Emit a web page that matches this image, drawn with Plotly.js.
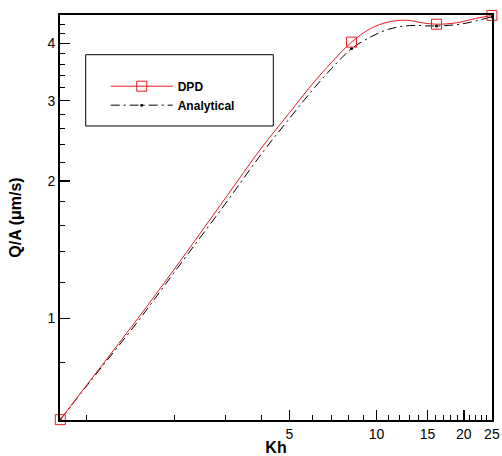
<!DOCTYPE html>
<html>
<head>
<meta charset="utf-8">
<script src="https://cdn.plot.ly/plotly-3.0.1.min.js"></script>
<style>html,body{margin:0;padding:0;background:#fff;}#chart{width:502px;height:456px;}</style>
</head>
<body>
<div id="chart"></div>
<script>
// DPD curve
const khDPD = [0.81, 1.0, 1.5, 2.0, 3.0, 4.0, 5.0, 6.0, 7.0, 8.2, 9.5, 11.0, 12.7, 14.4, 16.1, 18.8, 22.0, 25.0];
const qaDPD = [0.60, 0.715, 1.00, 1.28, 1.83, 2.36, 2.82, 3.26, 3.64, 4.03, 4.31, 4.46, 4.50, 4.44, 4.41, 4.44, 4.54, 4.61];
// DPD symbol points
const khDPDSym = [0.81, 8.2, 16.1, 25.0];
const qaDPDSym = [0.60, 4.03, 4.41, 4.61];
// Analytical curve
const khAn = [0.81, 1.0, 1.5, 2.0, 3.0, 4.0, 5.0, 6.0, 7.0, 8.2, 9.5, 11.0, 13.0, 16.1, 19.8, 25.0];
const qaAn = [0.60, 0.712, 0.985, 1.26, 1.78, 2.29, 2.74, 3.16, 3.53, 3.90, 4.13, 4.30, 4.38, 4.37, 4.42, 4.58];
// Analytical symbol points
const khAnSym = [0.81, 8.2, 16.1, 25.0];
const qaAnSym = [0.60, 3.90, 4.37, 4.58];
// ticks
const xTicks = [5, 10, 15, 20, 25];
const xMinor = [1, 2, 3, 4, 6, 7, 8, 9, 11, 12, 13, 14, 16, 17, 18, 19, 21, 22, 23, 24];
const yTicks = [1, 2, 3, 4];
const yMinor = [0.8, 1.2, 1.4, 1.6, 1.8, 2.2, 2.4, 2.6, 2.8, 3.2, 3.4, 3.6, 3.8, 4.2, 4.4];

const FONT = 'Liberation Sans, Arial, sans-serif';
const RED = '#e8191c';
const DASH = '9px,4px,2px,4px';

const traces = [
  {x: khAn, y: qaAn, mode: 'lines', line: {color: '#000', width: 1, dash: DASH, shape: 'spline'}, showlegend: false, hoverinfo: 'skip'},
  {x: khAnSym, y: qaAnSym, mode: 'markers', marker: {symbol: 'circle', size: 3, color: '#000'}, showlegend: false, cliponaxis: false},
  {x: khDPD, y: qaDPD, mode: 'lines', line: {color: RED, width: 1, shape: 'spline'}, showlegend: false, hoverinfo: 'skip'},
  {x: khDPDSym, y: qaDPDSym, mode: 'markers', marker: {symbol: 'square-open', size: 10, color: RED, line: {width: 1, color: RED}}, showlegend: false, cliponaxis: false},
  {x: [null], y: [null], mode: 'lines+markers', name: 'DPD', line: {color: RED, width: 1}, marker: {symbol: 'square-open', size: 10, color: RED, line: {width: 1, color: RED}}},
  {x: [null], y: [null], mode: 'lines+markers', name: 'Analytical', line: {color: '#555', width: 1.5, dash: DASH}, marker: {symbol: 'circle', size: 3, color: '#000'}}
];

const layout = {
  width: 502, height: 456,
  margin: {l: 60, r: 10, t: 15, b: 36, pad: 0},
  paper_bgcolor: '#fff', plot_bgcolor: '#fff',
  font: {family: FONT, size: 14, color: '#000'},
  showlegend: true,
  legend: {x: 0.1058, y: 0.86, xanchor: 'left', yanchor: 'top', bgcolor: 'rgba(0,0,0,0)', borderwidth: 0, itemwidth: 62,
           font: {family: FONT, size: 12, weight: 700}, tracegroupgap: 0},
  shapes: [{type: 'rect', xref: 'paper', yref: 'paper', x0: 0.0595, x1: 0.4938, y0: 0.726, y1: 0.902, line: {color: '#000', width: 1}, fillcolor: 'rgba(0,0,0,0)', layer: 'below'}],
  xaxis: {
    type: 'log', range: [Math.log10(0.808), Math.log10(25.02)],
    tickmode: 'array', tickvals: xTicks, ticktext: xTicks.map(String),
    ticks: 'inside', ticklen: 10, tickwidth: 1.5, tickcolor: '#000',
    showline: true, linewidth: 2, linecolor: '#000', mirror: true, showgrid: false, zeroline: false,
    tickfont: {family: FONT, size: 14},
    minor: {tickmode: 'array', tickvals: xMinor, ticks: 'inside', ticklen: 5, tickwidth: 1, tickcolor: '#000', showgrid: false},
    title: {text: 'Kh', font: {family: FONT, size: 16, weight: 700}, standoff: 2}
  },
  yaxis: {
    type: 'log', range: [Math.log10(0.599), Math.log10(4.62)],
    tickmode: 'array', tickvals: yTicks, ticktext: yTicks.map(String),
    ticks: 'inside', ticklen: 10, tickwidth: 1.5, tickcolor: '#000',
    showline: true, linewidth: 2, linecolor: '#000', mirror: true, showgrid: false, zeroline: false,
    tickfont: {family: FONT, size: 14},
    minor: {tickmode: 'array', tickvals: yMinor, ticks: 'inside', ticklen: 5, tickwidth: 1, tickcolor: '#000', showgrid: false},
    title: {text: 'Q/A (μm/s)', font: {family: FONT, size: 16, weight: 700}, standoff: 22}
  }
};

Plotly.newPlot('chart', traces, layout, {displayModeBar: false, staticPlot: true});
</script>
</body>
</html>
